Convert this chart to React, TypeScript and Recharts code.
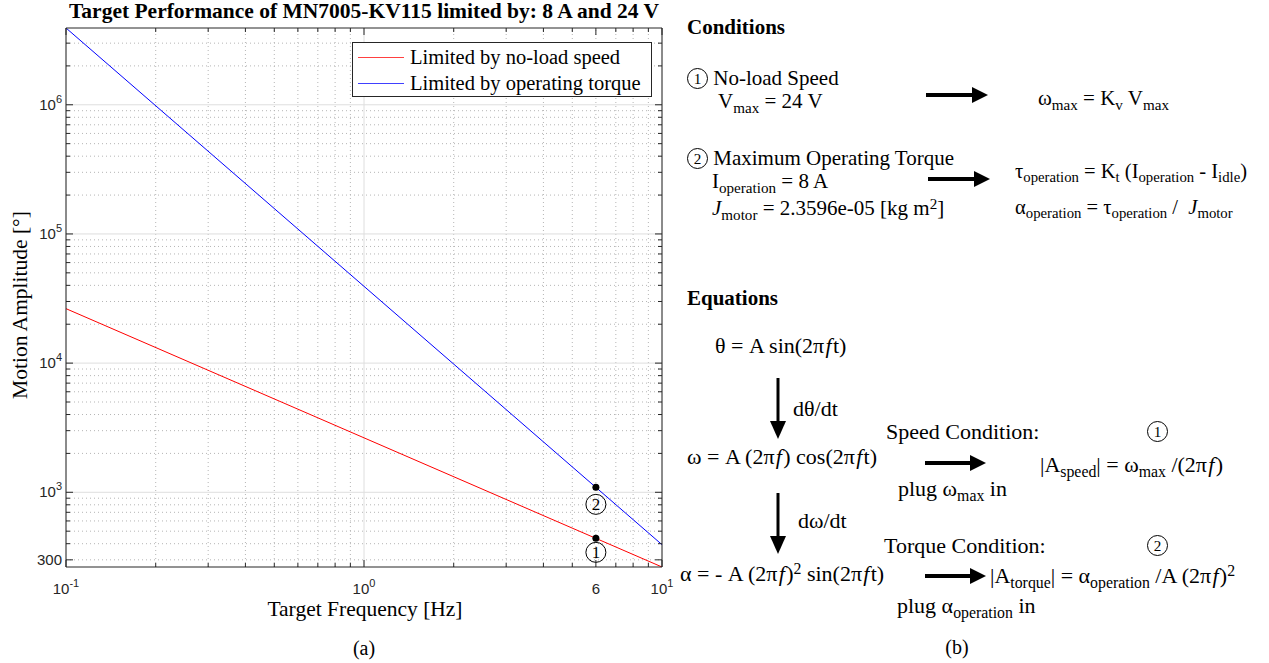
import React from 'react'
import { LineChart, Line, XAxis, YAxis, ReferenceLine, Legend } from 'recharts'

// values (frequency in Hz, amplitude in degrees)
const FREQ = [0.1, 1, 6, 10]
const SPEED_LIMIT = [26400, 2640, 440, 264]
const TORQUE_LIMIT = [3930000, 39300, 1092, 393]
const MARK_FREQ = 6

const X_DOMAIN = [0.1, 10]
const Y_DOMAIN = [264, 3930000]
const X_MAJOR = [0.1, 1, 10]
const X_MINOR = [0.2, 0.3, 0.4, 0.5, 0.6, 0.7, 0.8, 0.9, 2, 3, 4, 5, 6, 7, 8, 9]
const X_LABELS: Record<string, string[]> = {
  '0.1': ['10', '-1'],
  '1': ['10', '0'],
  '6': ['6'],
  '10': ['10', '1'],
}
const Y_MAJOR = [1000, 10000, 100000, 1000000]
const Y_MINOR = [
  300, 400, 500, 600, 700, 800, 900,
  2000, 3000, 4000, 5000, 6000, 7000, 8000, 9000,
  20000, 30000, 40000, 50000, 60000, 70000, 80000, 90000,
  200000, 300000, 400000, 500000, 600000, 700000, 800000, 900000,
  2000000, 3000000,
]
const Y_LABELS: Record<string, string[]> = {
  '300': ['300'],
  '1000': ['10', '3'],
  '10000': ['10', '4'],
  '100000': ['10', '5'],
  '1000000': ['10', '6'],
}

const SERIES = [
  { key: 'speed', name: 'Limited by no-load speed', color: '#ff0000', mark: '1' },
  { key: 'torque', name: 'Limited by operating torque', color: '#0000ff', mark: '2' },
]

const data = FREQ.map((f, i) => ({ f, speed: SPEED_LIMIT[i], torque: TORQUE_LIMIT[i] }))

const X_TICKS = [...X_MAJOR, ...X_MINOR].sort((a, b) => a - b)
const Y_TICKS = [...Y_MAJOR, ...Y_MINOR].sort((a, b) => a - b)

const AXIS = '#262626'
const SERIF = '"Liberation Serif", "Times New Roman", serif'
const SANS = '"Liberation Sans", Arial, sans-serif'

function TickMark({ x, y, payload, side }: any) {
  const v = payload.value
  const labels = side === 'bottom' || side === 'top' ? X_LABELS : Y_LABELS
  const lab = labels[String(v)]
  const len = lab ? 7 : 4
  let line
  if (side === 'bottom') line = <line x1={x} x2={x} y1={y} y2={y - len} stroke={AXIS} />
  else if (side === 'top') line = <line x1={x} x2={x} y1={y} y2={y + len} stroke={AXIS} />
  else if (side === 'left') line = <line x1={x} x2={x + len} y1={y} y2={y} stroke={AXIS} />
  else line = <line x1={x} x2={x - len} y1={y} y2={y} stroke={AXIS} />
  let text = null
  if (lab && side === 'bottom') {
    text = (
      <text x={x} y={y + 27} textAnchor="middle" fontFamily={SANS} fontSize={15} fill={AXIS}>
        {lab[0]}
        {lab[1] && <tspan dy={-7} fontSize={11}>{lab[1]}</tspan>}
      </text>
    )
  }
  if (lab && side === 'left') {
    text = (
      <text x={x - 4} y={y + 5} textAnchor="end" fontFamily={SANS} fontSize={15} fill={AXIS}>
        {lab[0]}
        {lab[1] && <tspan dy={-7} fontSize={11}>{lab[1]}</tspan>}
      </text>
    )
  }
  return (
    <g>
      {line}
      {text}
    </g>
  )
}

function MarkDot(props: any) {
  const { cx, cy, payload, mark } = props
  if (payload.f !== MARK_FREQ) return <g key={props.index} />
  const oy = cy + (mark === '2' ? 17 : 14)
  return (
    <g key={props.index}>
      <circle cx={cx} cy={cy} r={3.5} fill="#000" />
      <circle cx={cx} cy={oy} r={10} fill="none" stroke="#000" strokeWidth={1} />
      <text x={cx} y={oy + 6} textAnchor="middle" fontFamily={SERIF} fontSize={17} fill="#000">
        {mark}
      </text>
    </g>
  )
}

function LegendBox() {
  return (
    <div
      style={{
        border: `1px solid ${AXIS}`,
        background: '#fff',
        width: 298,
        height: 53,
        boxSizing: 'content-box',
        fontFamily: SERIF,
        fontSize: 20.5,
        color: '#000',
      }}
    >
      {SERIES.map((s) => (
        <div key={s.key} style={{ display: 'flex', alignItems: 'center', height: 26, marginTop: s.key === 'speed' ? 1 : 0 }}>
          <div style={{ width: 46, height: 1, background: s.color, marginLeft: 5, marginRight: 6, opacity: 0.75 }} />
          <span>{s.name}</span>
        </div>
      ))}
    </div>
  )
}

function Sub({ children }: { children: React.ReactNode }) {
  return <span style={{ fontSize: '0.72em', position: 'relative', top: '0.3em' }}>{children}</span>
}
function Sup({ children }: { children: React.ReactNode }) {
  return <span style={{ fontSize: '0.72em', position: 'relative', top: '-0.45em' }}>{children}</span>
}
function F() {
  return <i style={{ margin: '0 0.06em' }}>f</i>
}
function Circ({ n, size = 19 }: { n: string; size?: number }) {
  return (
    <span
      style={{
        display: 'inline-block',
        width: size,
        height: size,
        border: '1px solid #000',
        borderRadius: '50%',
        textAlign: 'center',
        lineHeight: `${size}px`,
        fontSize: size * 0.8,
        verticalAlign: 'middle',
        position: 'relative',
        top: -2,
      }}
    >
      {n}
    </span>
  )
}

function T({ x, y, size = 21, bold, children }: any) {
  return (
    <div
      style={{
        position: 'absolute',
        left: x,
        top: y - size * 0.55,
        fontSize: size,
        lineHeight: `${size}px`,
        fontWeight: bold ? 'bold' : 'normal',
        whiteSpace: 'nowrap',
        fontFamily: SERIF,
        color: '#000',
      }}
    >
      {children}
    </div>
  )
}

function RightArrow({ x1, x2, y }: { x1: number; x2: number; y: number }) {
  return (
    <g>
      <line x1={x1} x2={x2 - 12} y1={y} y2={y} stroke="#000" strokeWidth={4} />
      <polygon points={`${x2 - 16},${y - 8} ${x2},${y} ${x2 - 16},${y + 8}`} fill="#000" />
    </g>
  )
}
function DownArrow({ x, y1, y2 }: { x: number; y1: number; y2: number }) {
  return (
    <g>
      <line x1={x} x2={x} y1={y1} y2={y2 - 12} stroke="#000" strokeWidth={3} />
      <polygon points={`${x - 8},${y2 - 18} ${x},${y2} ${x + 8},${y2 - 18}`} fill="#000" />
    </g>
  )
}

const axisCommon = {
  type: 'number' as const,
  scale: 'log' as const,
  allowDataOverflow: true,
  interval: 0 as const,
  tickSize: 0,
  tickMargin: 0,
  axisLine: { stroke: AXIS },
}

export default function App() {
  return (
    <div style={{ position: 'absolute', left: 0, top: 0, width: 1269, height: 663, background: '#fff', overflow: 'hidden' }}>
      <div style={{ position: 'absolute', left: 0, top: 0 }}>
        <LineChart width={680} height={663} data={data} margin={{ top: 27, right: 17, bottom: 95, left: 65 }}>
          <XAxis {...axisCommon} dataKey="f" domain={X_DOMAIN} ticks={X_TICKS} height={1} tick={<TickMark side="bottom" />} />
          <XAxis
            {...axisCommon}
            xAxisId="top"
            orientation="top"
            dataKey="f"
            domain={X_DOMAIN}
            ticks={X_TICKS}
            height={1}
            tick={<TickMark side="top" />}
          />
          <YAxis {...axisCommon} domain={Y_DOMAIN} ticks={Y_TICKS} width={1} tick={<TickMark side="left" />} />
          <YAxis
            {...axisCommon}
            yAxisId="right"
            orientation="right"
            domain={Y_DOMAIN}
            ticks={Y_TICKS}
            width={1}
            tick={<TickMark side="right" />}
          />
          {X_MINOR.map((v) => (
            <ReferenceLine key={`xm${v}`} x={v} stroke="#b5b5b5" strokeDasharray="1 3" />
          ))}
          {X_MAJOR.map((v) => (
            <ReferenceLine key={`xM${v}`} x={v} stroke="#dedede" />
          ))}
          {Y_MINOR.map((v) => (
            <ReferenceLine key={`ym${v}`} y={v} stroke="#b5b5b5" strokeDasharray="1 3" />
          ))}
          {Y_MAJOR.map((v) => (
            <ReferenceLine key={`yM${v}`} y={v} stroke="#dedede" />
          ))}
          {SERIES.map((s) => (
            <Line
              key={s.key}
              dataKey={s.key}
              name={s.name}
              stroke={s.color}
              strokeWidth={1}
              type="linear"
              isAnimationActive={false}
              dot={(p: any) => <MarkDot {...p} mark={s.mark} />}
              activeDot={false}
            />
          ))}
          <Legend
            layout="horizontal"
            verticalAlign="middle"
            align="center"
            content={() => <LegendBox />}
            wrapperStyle={{ position: 'absolute', left: 352, top: 42, width: 300, height: 56 }}
          />
        </LineChart>
      </div>

      <T x={364 - 320} y={13} size={21.5} bold>
        <div style={{ width: 640, textAlign: 'center' }}>Target Performance of MN7005-KV115 limited by: 8 A and 24 V</div>
      </T>
      <div
        style={{
          position: 'absolute',
          left: 20 - 150,
          top: 305 - 13,
          width: 300,
          textAlign: 'center',
          transform: 'rotate(-90deg)',
          fontFamily: SERIF,
          fontSize: 21.5,
          lineHeight: '26px',
        }}
      >
        Motion Amplitude [°]
      </div>
      <div
        style={{
          position: 'absolute',
          left: 215,
          top: 596,
          width: 300,
          textAlign: 'center',
          fontFamily: SERIF,
          fontSize: 21.5,
          lineHeight: '26px',
        }}
      >
        Target Frequency [Hz]
      </div>
      <div style={{ position: 'absolute', left: 314, top: 636, width: 100, textAlign: 'center', fontFamily: SERIF, fontSize: 20, lineHeight: '24px' }}>
        (a)
      </div>

      <svg style={{ position: 'absolute', left: 0, top: 0 }} width={1269} height={663}>
        <RightArrow x1={926} x2={988} y={95} />
        <RightArrow x1={928} x2={990} y={179} />
        <RightArrow x1={925} x2={986} y={463} />
        <RightArrow x1={925} x2={986} y={576} />
        <DownArrow x={778} y1={378} y2={439} />
        <DownArrow x={778} y1={493} y2={554} />
      </svg>

      <T x={687} y={29} size={21} bold>Conditions</T>
      <T x={687} y={80}>
        <Circ n="1" /> No-load Speed
      </T>
      <T x={718} y={103}>
        V<Sub>max</Sub> = 24 V
      </T>
      <T x={1038} y={100}>
        ω<Sub>max</Sub> = K<Sub>v</Sub> V<Sub>max</Sub>
      </T>
      <T x={687} y={160}>
        <Circ n="2" /> Maximum Operating Torque
      </T>
      <T x={712} y={183}>
        I<Sub>operation</Sub> = 8 A
      </T>
      <T x={712} y={210}>
        <i>J</i>
        <Sub>motor</Sub> = 2.3596e-05 [kg m<Sup>2</Sup>]
      </T>
      <T x={1015} y={172} size={20.5}>
        τ<Sub>operation</Sub> = K<Sub>t</Sub> (I<Sub>operation</Sub> - I<Sub>idle</Sub>)
      </T>
      <T x={1015} y={208} size={20.5}>
        α<Sub>operation</Sub> = τ<Sub>operation</Sub> / &nbsp;<i>J</i>
        <Sub>motor</Sub>
      </T>

      <T x={687} y={300} size={21} bold>Equations</T>
      <T x={715} y={347} size={22}>
        θ = A sin(2π<F />t)
      </T>
      <T x={793} y={410} size={22}>dθ/dt</T>
      <T x={687} y={458} size={22}>
        ω = A (2π<F />) cos(2π<F />t)
      </T>
      <T x={886} y={433} size={22}>Speed Condition:</T>
      <T x={1147} y={433} size={22}>
        <Circ n="1" />
      </T>
      <T x={898} y={490} size={22}>
        plug ω<Sub>max</Sub> in
      </T>
      <T x={1040} y={466} size={22}>
        |A<Sub>speed</Sub>| = ω<Sub>max</Sub> /(2π<F />)
      </T>
      <T x={798} y={522} size={22}>dω/dt</T>
      <T x={884} y={547} size={22}>Torque Condition:</T>
      <T x={1147} y={547} size={22}>
        <Circ n="2" />
      </T>
      <T x={680} y={575} size={22}>
        α = - A (2π<F />)<Sup>2</Sup> sin(2π<F />t)
      </T>
      <T x={990} y={577} size={22}>
        |A<Sub>torque</Sub>| = α<Sub>operation</Sub> /A (2π<F />)<Sup>2</Sup>
      </T>
      <T x={897} y={607} size={22}>
        plug α<Sub>operation</Sub> in
      </T>
      <T x={907} y={648} size={20}>
        <div style={{ width: 100, textAlign: 'center' }}>(b)</div>
      </T>
    </div>
  )
}
